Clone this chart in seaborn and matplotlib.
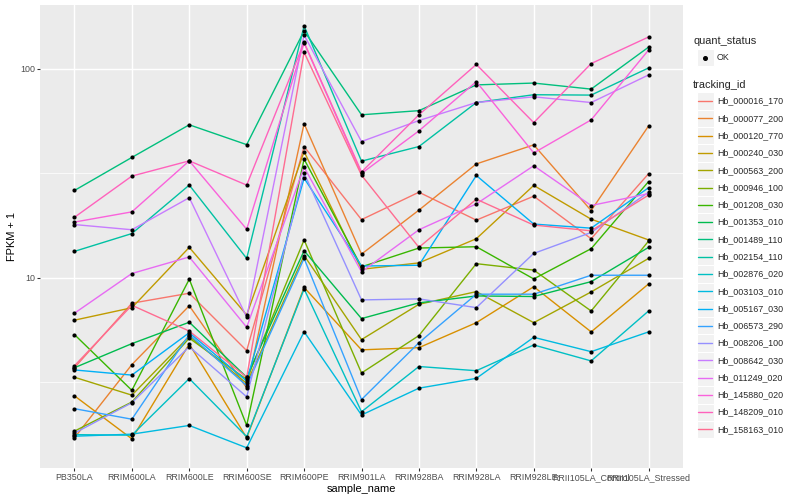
import matplotlib
matplotlib.use("Agg")
import matplotlib.pyplot as plt
from matplotlib.patches import Rectangle
from matplotlib.lines import Line2D
from matplotlib.ticker import FixedLocator, NullFormatter
import seaborn as sns
import pandas as pd

samples = ["PB350LA", "RRIM600LA", "RRIM600LE", "RRIM600SE", "RRIM600PE",
           "RRIM901LA", "RRIM928BA", "RRIM928LA", "RRIM928LE",
           "RRII105LA_Control", "RRII105LA_Stressed"]

tracking_ids = ["Hb_000016_170", "Hb_000077_200", "Hb_000120_770", "Hb_000240_030",
                "Hb_000563_200", "Hb_000946_100", "Hb_001208_030", "Hb_001353_010",
                "Hb_001489_110", "Hb_002154_110", "Hb_002876_020", "Hb_003103_010",
                "Hb_005167_030", "Hb_006573_290", "Hb_008206_100", "Hb_008642_030",
                "Hb_011249_020", "Hb_145880_020", "Hb_148209_010", "Hb_158163_010"]

colors = ["#F8766D", "#EA8331", "#D89000", "#C09B00", "#A3A500", "#7CAE00",
          "#39B600", "#00BB4E", "#00BF7D", "#00C1A3", "#00BFC4", "#00BAE0",
          "#00B0F6", "#35A2FF", "#9590FF", "#C77CFF", "#E76BF3", "#FA62DB",
          "#FF62BC", "#FF6C91"]

hb_000016_170 = [3.72, 7.57, 8.45, 4.49, 42.5, 19.0, 25.7, 18.9, 24.6, 15.4, 31.5]
hb_000077_200 = [1.72, 3.85, 7.36, 2.98, 54.7, 13.0, 21.1, 35.1, 43.3, 21.0, 53.3]
hb_000120_770 = [2.73, 1.70, 4.83, 1.72, 9.0, 4.53, 4.64, 6.11, 9.08, 5.52, 9.36]
hb_000240_030 = [6.28, 7.2, 14.0, 6.65, 40.2, 11.0, 11.8, 15.4, 27.7, 19.1, 15.2]
hb_000563_200 = [3.35, 2.75, 5.26, 3.13, 12.8, 5.07, 7.48, 8.6, 6.11, 8.57, 12.4]
hb_000946_100 = [1.85, 2.55, 5.15, 3.27, 15.2, 3.51, 5.30, 11.7, 10.9, 6.95, 15.0]
hb_001208_030 = [5.36, 2.9, 9.86, 1.97, 37.0, 11.3, 13.9, 14.1, 9.89, 13.8, 28.9]
hb_001353_010 = [3.72, 4.85, 6.14, 3.35, 13.5, 6.39, 7.6, 8.2, 8.15, 9.6, 14.0]
hb_001489_110 = [26.2, 37.7, 54.0, 43.4, 152, 60.3, 63.1, 83.8, 85.5, 80, 127]
hb_002154_110 = [13.4, 16.3, 27.8, 12.4, 160.6, 36.2, 42.5, 69, 75.2, 74.9, 101]
hb_002876_020 = [1.78, 1.77, 3.30, 1.74, 8.86, 2.29, 3.77, 3.60, 4.78, 4.01, 6.95]
hb_003103_010 = [1.75, 1.79, 1.97, 1.54, 5.53, 2.21, 2.97, 3.31, 5.2, 4.44, 5.52]
hb_005167_030 = [3.63, 3.43, 5.47, 3.21, 30.0, 11.4, 11.5, 30.9, 18.1, 17.3, 27.0]
hb_006573_290 = [2.37, 2.11, 5.36, 3.05, 12.4, 2.62, 4.90, 8.36, 8.36, 10.3, 10.3]
hb_008206_100 = [1.81, 2.53, 4.69, 2.70, 31.7, 7.85, 7.94, 7.21, 13.1, 16.5, 25.7]
hb_008642_030 = [18.0, 17.0, 24.2, 6.49, 145, 44.9, 56.6, 69, 73.5, 69, 93.5]
hb_011249_020 = [6.78, 10.5, 12.6, 5.81, 33.9, 10.7, 17.0, 22.6, 34.4, 22.2, 25.3]
hb_145880_020 = [18.5, 20.7, 36.3, 17.1, 133, 31.6, 50.5, 86.9, 39.6, 57, 123]
hb_148209_010 = [19.5, 30.7, 36.3, 27.8, 134, 32.1, 60.3, 105, 55.3, 106, 142]
hb_158163_010 = [3.80, 7.4, 5.57, 3.35, 120, 31.0, 14.0, 23.8, 17.9, 16.8, 24.9]

series = [hb_000016_170, hb_000077_200, hb_000120_770, hb_000240_030, hb_000563_200,
          hb_000946_100, hb_001208_030, hb_001353_010, hb_001489_110, hb_002154_110,
          hb_002876_020, hb_003103_010, hb_005167_030, hb_006573_290, hb_008206_100,
          hb_008642_030, hb_011249_020, hb_145880_020, hb_148209_010, hb_158163_010]

rows = []
for tid, vals in zip(tracking_ids, series):
    for i, (s, v) in enumerate(zip(samples, vals)):
        rows.append({"tracking_id": tid, "sample_name": s, "pos": i,
                     "fpkm1": v, "quant_status": "OK"})
df = pd.DataFrame(rows)

sns.set_theme(style="darkgrid")
plt.rcParams['font.family'] = ['Liberation Sans', 'DejaVu Sans']

W, H = 800, 500
fig = plt.figure(figsize=(8, 5), dpi=100)
fig.patch.set_facecolor("white")

def fx(x):
    return x / W

def fy(y):
    return 1 - y / H

pl, pr, pt, pb = 40, 683, 5, 468
ax = fig.add_axes([fx(pl), fy(pb), (pr - pl) / W, (pb - pt) / H])
ax.set_facecolor("#EBEBEB")

sns.lineplot(data=df, x="pos", y="fpkm1", hue="tracking_id", hue_order=tracking_ids,
             palette=colors, estimator=None, sort=False, lw=1.0, ax=ax, legend=False)
sns.scatterplot(data=df, x="pos", y="fpkm1", color="black", s=9, linewidth=0,
                ax=ax, legend=False, zorder=3)

ax.set_yscale("log")
ax.set_ylim(1.233, 202)
ax.set_xlim(-0.6, len(samples) - 0.4)
ax.yaxis.set_major_locator(FixedLocator([10, 100]))
ax.set_yticklabels(["10", "100"])
ax.yaxis.set_minor_locator(FixedLocator([10 ** 0.5, 10 ** 1.5]))
ax.yaxis.set_minor_formatter(NullFormatter())
ax.set_xticks(range(len(samples)))
ax.set_xticklabels(samples)

ax.grid(False)
ax.grid(which="major", color="white", lw=1.07)
ax.grid(which="minor", axis="y", color="white", lw=0.53)
ax.set_axisbelow(True)
for sp in ax.spines.values():
    sp.set_visible(False)

ax.tick_params(axis="both", which="major", length=2.0, width=0.77, color="#333333",
               labelsize=6.4, labelcolor="#4D4D4D", pad=1.6, direction="out",
               bottom=True, left=True)
ax.tick_params(axis="both", which="minor", length=0)
ax.set_xlabel("")
ax.set_ylabel("")

fig.text(fx((pl + pr) / 2), fy(489), "sample_name", ha="center", va="center",
         fontsize=7.9, color="black")
fig.text(fx(12), fy((pt + pb) / 2), "FPKM + 1", ha="center", va="center",
         rotation=90, fontsize=7.9, color="black")

# legends
kx0, kw, kh = 696.5, 17.28, 17.28
fig.text(fx(693), fy(40.5), "quant_status", ha="left", va="center", fontsize=7.9)
fig.patches.append(Rectangle((fx(kx0), fy(49 + kh)), kw / W, kh / H,
                             transform=fig.transFigure, facecolor="#F2F2F2",
                             edgecolor="white", lw=0.8))
fig.lines.append(Line2D([fx(kx0 + kw / 2)], [fy(57.6)], transform=fig.transFigure,
                        marker="o", markersize=2.6, color="black", lw=0))
fig.text(fx(717), fy(57.6), "OK", ha="left", va="center", fontsize=6.4)

fig.text(fx(693), fy(84.5), "tracking_id", ha="left", va="center", fontsize=7.9)
top0 = 92.5
for i, (tid, c) in enumerate(zip(tracking_ids, colors)):
    yt = top0 + i * kh
    yc = yt + kh / 2
    fig.patches.append(Rectangle((fx(kx0), fy(yt + kh)), kw / W, kh / H,
                                 transform=fig.transFigure, facecolor="#F2F2F2",
                                 edgecolor="white", lw=0.8))
    fig.lines.append(Line2D([fx(kx0 + 1.7), fx(kx0 + kw - 1.7)], [fy(yc), fy(yc)],
                            transform=fig.transFigure, color=c, lw=1.0))
    fig.text(fx(717), fy(yc), tid, ha="left", va="center", fontsize=6.4)

fig.savefig("out.png", dpi=100)
